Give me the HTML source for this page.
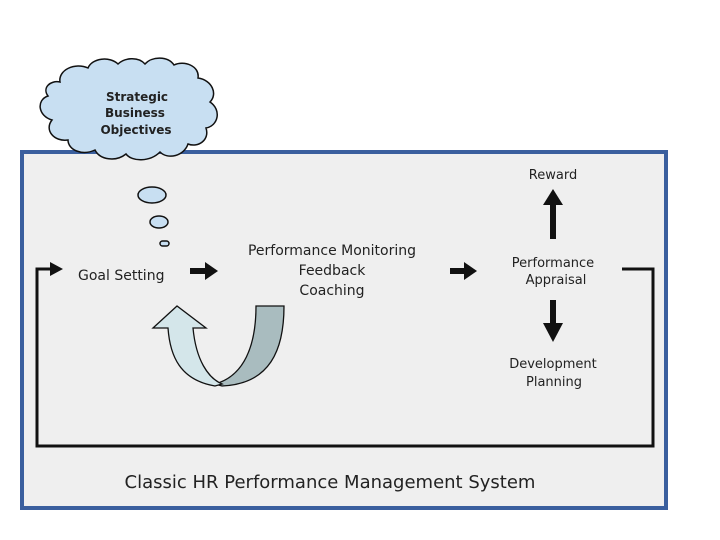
<!DOCTYPE html>
<html><head><meta charset="utf-8"><style>
body{margin:0;background:#fff;}
svg{display:block;}
text{font-family:"DejaVu Sans","Liberation Sans",sans-serif;fill:#222;}
</style></head><body>
<svg width="720" height="540" viewBox="0 0 720 540">
<rect x="0" y="0" width="720" height="540" fill="#fff"/>
<rect x="22" y="152" width="644" height="356" fill="#efefef" stroke="#3a5f9e" stroke-width="4"/>
<!-- cloud -->
<path d="M60,82 C58,70 75,62 88,68 C92,58 110,56 118,64 C124,58 138,56 145,64 C152,56 168,56 174,65 C184,60 200,66 198,78 C212,80 218,94 210,102 C222,110 218,126 206,128 C210,140 198,148 188,144 C184,156 168,160 160,152 C150,162 132,162 126,154 C116,162 100,160 95,150 C82,156 68,150 68,140 C54,142 44,130 52,120 C38,116 36,100 48,96 C42,88 50,80 60,82 Z" fill="#c8dff2" stroke="#111" stroke-width="1.5"/>
<ellipse cx="152" cy="195" rx="14" ry="8" fill="#c8dff2" stroke="#111" stroke-width="1.5"/>
<ellipse cx="159" cy="222" rx="9" ry="6" fill="#c8dff2" stroke="#111" stroke-width="1.5"/>
<rect x="160" y="241" width="9" height="5" rx="2.5" fill="#c8dff2" stroke="#111" stroke-width="1.5"/>
<text x="137" y="101" font-size="12" font-weight="bold" text-anchor="middle">Strategic</text>
<text x="135" y="117" font-size="12" font-weight="bold" text-anchor="middle">Business</text>
<text x="136" y="134" font-size="12" font-weight="bold" text-anchor="middle">Objectives</text>
<!-- loop line -->
<polyline points="622,269 653,269 653,446 37,446 37,269 52,269" fill="none" stroke="#111" stroke-width="3"/>
<polygon points="50,262 63,269 50,276" fill="#111"/>
<text x="78" y="280" font-size="14">Goal Setting</text>
<!-- arrows -->
<rect x="190" y="268" width="16" height="6" fill="#111"/><polygon points="205,262 218,271 205,280" fill="#111"/>
<rect x="450" y="268" width="15" height="6" fill="#111"/><polygon points="464,262 477,271 464,280" fill="#111"/>
<rect x="550" y="204" width="6" height="35" fill="#111"/><polygon points="543,205 553,189 563,205" fill="#111"/>
<rect x="550" y="300" width="6" height="24" fill="#111"/><polygon points="543,323 553,342 563,323" fill="#111"/>
<text x="332" y="255" font-size="14" text-anchor="middle">Performance Monitoring</text>
<text x="332" y="275" font-size="14" text-anchor="middle">Feedback</text>
<text x="332" y="295" font-size="14" text-anchor="middle">Coaching</text>
<text x="553" y="179" font-size="13" text-anchor="middle">Reward</text>
<text x="553" y="267" font-size="13" text-anchor="middle">Performance</text>
<text x="556" y="284" font-size="13" text-anchor="middle">Appraisal</text>
<text x="553" y="368" font-size="13" text-anchor="middle">Development</text>
<text x="554" y="386" font-size="13" text-anchor="middle">Planning</text>
<!-- curved arrow -->
<path d="M256,306 L284,306 C284,350 270,384 222,386 L215,384 C244,376 256,346 256,306 Z" fill="#a9bcbf" stroke="#111" stroke-width="1.3"/>
<path d="M168,328 L153,328 L177,306 L206,328 L193,328 C196,360 208,378 222,384 L215,386 C180,380 170,356 168,328 Z" fill="#d4e6ea" stroke="#111" stroke-width="1.3"/>
<text x="330" y="488" font-size="18" text-anchor="middle">Classic HR Performance Management System</text>
</svg>
</body></html>
